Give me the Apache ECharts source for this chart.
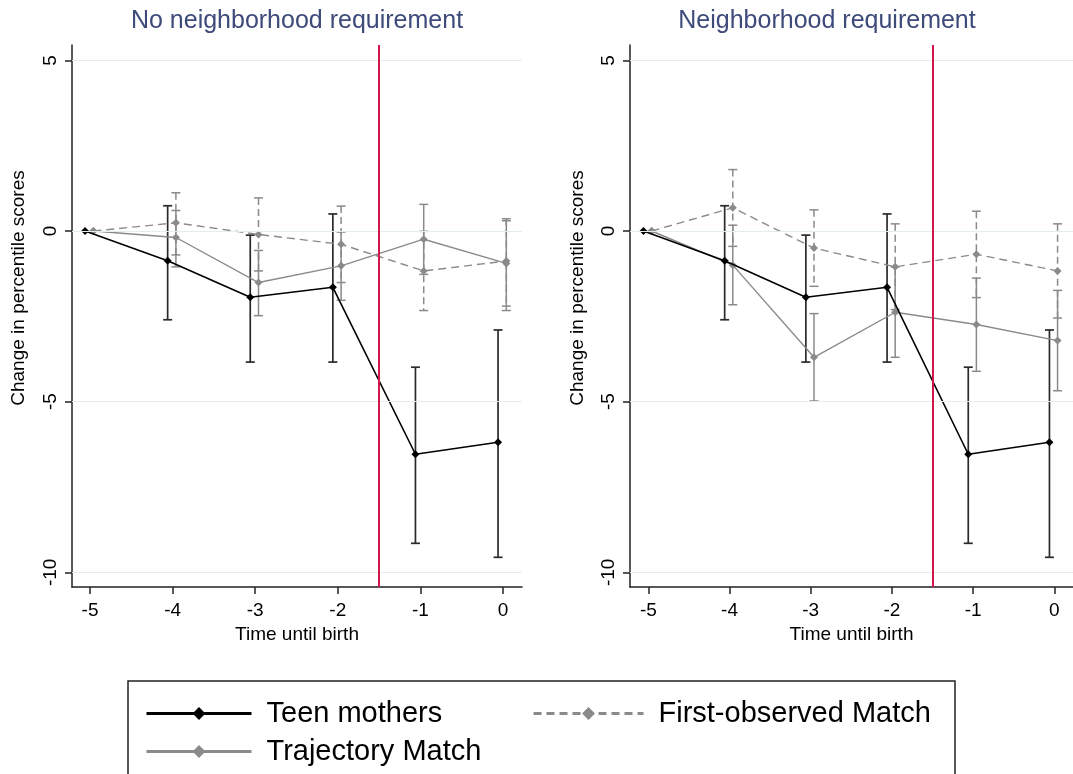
<!DOCTYPE html>
<html>
<head>
<meta charset="utf-8">
<script src="https://cdn.jsdelivr.net/npm/echarts@6/dist/echarts.min.js"></script>
<style>html,body{margin:0;padding:0;background:#fff;}#chart{width:1073px;height:774px;}</style>
</head>
<body>
<div id="chart"></div>
<script>
// ---- data ----
const times = [-5, -4, -3, -2, -1, 0];
const xTickLabels = [-5, -4, -3, -2, -1, 0];
const yTickLabels = [-10, -5, 0, 5];
const panelTitles = ['No neighborhood requirement', 'Neighborhood requirement'];
const eventTime = -1.5;

// Teen mothers (same in both panels)
const teenMean = [0, -0.87, -1.94, -1.65, -6.54, -6.19];
const teenLo   = [null, -2.60, -3.84, -3.84, -9.15, -9.56];
const teenHi   = [null, 0.74, -0.12, 0.50, -3.99, -2.90];

// Panel 1: no neighborhood requirement
const trajL   = [0, -0.19, -1.51, -1.02, -0.24, -0.95];
const trajLLo = [null, -1.05, -2.48, -2.03, -1.27, -2.33];
const trajLHi = [null, 0.60, -0.57, -0.03, 0.78, 0.30];
const foL     = [0, 0.24, -0.10, -0.39, -1.17, -0.88];
const foLLo   = [null, -0.70, -1.17, -1.51, -2.33, -2.20];
const foLHi   = [null, 1.12, 0.97, 0.73, -0.01, 0.36];

// Panel 2: neighborhood requirement
const trajR   = [0, -1.00, -3.70, -2.38, -2.74, -3.21];
const trajRLo = [null, -2.16, -4.98, -3.70, -4.11, -4.68];
const trajRHi = [null, 0.17, -2.42, -1.05, -1.38, -1.74];
const foR     = [0, 0.68, -0.50, -1.05, -0.68, -1.17];
const foRLo   = [null, -0.45, -1.62, -2.30, -1.95, -2.55];
const foRHi   = [null, 1.80, 0.62, 0.21, 0.58, 0.21];

// ---- style / layout ----
const teenShift = -0.06, matchShift = 0.04;
const FONT = '"Liberation Sans", Arial, sans-serif';
const BLACK = '#000000', GRAY = '#8a8a8a', RED = '#d1184a', GRID = '#e4eeef';

const chart = echarts.init(document.getElementById('chart'), null, {renderer: 'canvas'});

function pts(vals, shift) { return times.map((t, i) => [t + shift, vals[i]]); }
function bars(lo, hi, shift) {
  const out = [];
  times.forEach((t, i) => { if (lo[i] !== null) out.push([t + shift, lo[i], hi[i]]); });
  return out;
}
function errRender(color, dashed, width) {
  return function (params, api) {
    const x = api.value(0), lo = api.value(1), hi = api.value(2);
    const a = api.coord([x, hi]), b = api.coord([x, lo]);
    const cap = 4.5;
    const vs = {stroke: color, lineWidth: width, lineDash: dashed ? [7, 4] : null, fill: null};
    const cs = {stroke: color, lineWidth: width, fill: null};
    return {type: 'group', children: [
      {type: 'line', shape: {x1: a[0], y1: a[1], x2: b[0], y2: b[1]}, style: vs},
      {type: 'line', shape: {x1: a[0] - cap, y1: a[1], x2: a[0] + cap, y2: a[1]}, style: cs},
      {type: 'line', shape: {x1: b[0] - cap, y1: b[1], x2: b[0] + cap, y2: b[1]}, style: cs}
    ]};
  };
}

const grids = [
  {left: 72, top: 45, width: 450, height: 542},
  {left: 630, top: 45, width: 450.7, height: 542}
];
const xMins = [-5.218, -5.226], xMaxs = [0.23, 0.23];

const xAxes = [0, 1].map(i => ({
  type: 'value', gridIndex: i, min: xMins[i], max: xMaxs[i],
  name: 'Time until birth', nameLocation: 'middle', nameGap: 31,
  nameTextStyle: {fontFamily: FONT, fontSize: 19, color: '#000'},
  axisLine: {show: true, onZero: false, lineStyle: {color: '#222', width: 1.5}},
  axisTick: {show: true, length: 7, inside: false, customValues: xTickLabels, lineStyle: {color: '#222', width: 1.5}},
  axisLabel: {customValues: xTickLabels, fontFamily: FONT, fontSize: 19, color: '#000', margin: 14},
  splitLine: {show: false}
}));
const yAxes = [0, 1].map(i => ({
  type: 'value', gridIndex: i, min: -10.43, max: 5.45,
  axisLine: {show: true, onZero: false, lineStyle: {color: '#222', width: 1.5}},
  axisTick: {show: true, length: 7, inside: false, customValues: yTickLabels, lineStyle: {color: '#222', width: 1.5}},
  axisLabel: {customValues: yTickLabels, rotate: 90, fontFamily: FONT, fontSize: 19, color: '#000', margin: 12},
  splitLine: {show: false}
}));

function panelSeries(i, traj, trajLo, trajHi, fo, foLo, foHi) {
  const ax = {xAxisIndex: i, yAxisIndex: i};
  return [
    Object.assign({
      type: 'line', name: 'refs' + i, data: [], silent: true, z: 1,
      markLine: {
        silent: true, symbol: 'none', label: {show: false}, animation: false,
        data: [
          {yAxis: 5, lineStyle: {color: GRID, width: 1, type: 'solid'}},
          {yAxis: 0, lineStyle: {color: GRID, width: 1, type: 'solid'}},
          {yAxis: -5, lineStyle: {color: GRID, width: 1, type: 'solid'}},
          {yAxis: -10, lineStyle: {color: GRID, width: 1, type: 'solid'}},
          {xAxis: eventTime, lineStyle: {color: RED, width: 2, type: 'solid'}}
        ]
      }
    }, ax),
    Object.assign({type: 'custom', name: 'fo-ci' + i, data: bars(foLo, foHi, matchShift), renderItem: errRender(GRAY, true, 1.5), z: 2, silent: true}, ax),
    Object.assign({type: 'custom', name: 'traj-ci' + i, data: bars(trajLo, trajHi, matchShift), renderItem: errRender(GRAY, false, 1.5), z: 2, silent: true}, ax),
    Object.assign({type: 'custom', name: 'teen-ci' + i, data: bars(teenLo, teenHi, teenShift), renderItem: errRender('#2a2a2a', false, 1.7), z: 2, silent: true}, ax),
    Object.assign({type: 'line', name: 'First-observed Match', data: pts(fo, matchShift), z: 3,
      symbol: 'diamond', symbolSize: 8, showAllSymbol: true,
      lineStyle: {color: GRAY, width: 1.4, type: [8, 5]}, itemStyle: {color: GRAY}}, ax),
    Object.assign({type: 'line', name: 'Trajectory Match', data: pts(traj, matchShift), z: 3,
      symbol: 'diamond', symbolSize: 8, showAllSymbol: true,
      lineStyle: {color: GRAY, width: 1.4}, itemStyle: {color: GRAY}}, ax),
    Object.assign({type: 'line', name: 'Teen mothers', data: pts(teenMean, teenShift), z: 4,
      symbol: 'diamond', symbolSize: 8, showAllSymbol: true,
      lineStyle: {color: BLACK, width: 1.6}, itemStyle: {color: BLACK}}, ax)
  ];
}

const series = [].concat(
  panelSeries(0, trajL, trajLLo, trajLHi, foL, foLLo, foLHi),
  panelSeries(1, trajR, trajRLo, trajRHi, foR, foRLo, foRHi)
);

const legendText = {fontFamily: FONT, fontSize: 29, color: '#000', padding: [0, 0, 0, 10]};
function legendAt(left, top, name, w) {
  return {left: left, top: top, itemWidth: w, itemHeight: 16, data: [name],
          textStyle: legendText, selectedMode: false, padding: 0,
          lineStyle: {width: 3}};
}
const option = {
  backgroundColor: '#ffffff',
  animation: false,
  grid: grids,
  xAxis: xAxes,
  yAxis: yAxes,
  legend: [
    legendAt(145, 699, 'Teen mothers', 105),
    legendAt(145, 737, 'Trajectory Match', 105),
    legendAt(532, 699, 'First-observed Match', 110)
  ],
  graphic: [
    {type: 'text', x: 297, y: 21, style: {text: panelTitles[0], font: '25px ' + FONT, fill: '#3d4a7a', textAlign: 'center', textVerticalAlign: 'middle'}},
    {type: 'text', x: 827, y: 21, style: {text: panelTitles[1], font: '25px ' + FONT, fill: '#3d4a7a', textAlign: 'center', textVerticalAlign: 'middle'}},
    {type: 'text', x: 19, y: 288, rotation: Math.PI / 2, style: {text: 'Change in percentile scores', font: '19px ' + FONT, fill: '#000', textAlign: 'center', textVerticalAlign: 'middle'}},
    {type: 'text', x: 578, y: 288, rotation: Math.PI / 2, style: {text: 'Change in percentile scores', font: '19px ' + FONT, fill: '#000', textAlign: 'center', textVerticalAlign: 'middle'}},
    {type: 'rect', shape: {x: 128, y: 681, width: 827, height: 130}, style: {fill: null, stroke: '#222', lineWidth: 1.5}, silent: true}
  ],
  series: series
};
chart.setOption(option);
</script>
</body>
</html>
